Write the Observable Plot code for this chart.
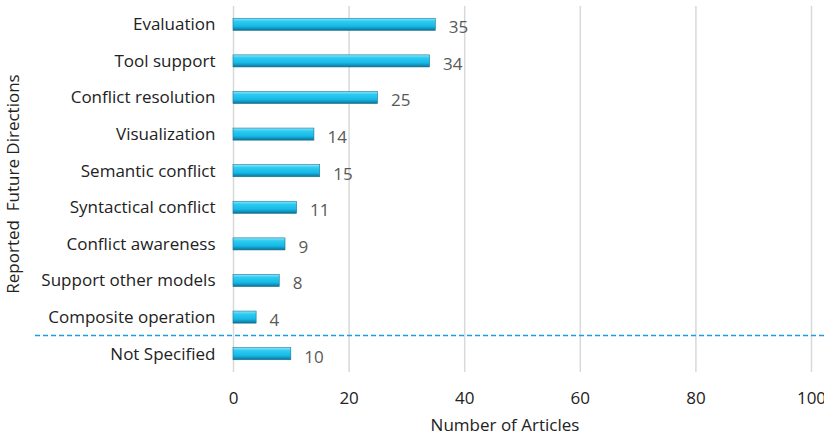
<!DOCTYPE html>
<html><head><meta charset="utf-8">
<script src="https://cdn.jsdelivr.net/npm/d3@7"></script>
<script src="https://cdn.jsdelivr.net/npm/@observablehq/plot@0.6"></script>
<style>body{margin:0;background:#fff;} svg{display:block;}</style>
</head><body><div id="chart"></div>
<script>
const categories = ["Evaluation","Tool support","Conflict resolution","Visualization","Semantic conflict","Syntactical conflict","Conflict awareness","Support other models","Composite operation","Not Specified"];
const values = [35,34,25,14,15,11,9,8,4,10];
const xTicks = [0,20,40,60,80,100];
const data = categories.map((c,i)=>({category:c, value:values[i]}));
const font = "'Open Sans', sans-serif";

const chart = Plot.plot({
  width: 824, height: 442,
  marginLeft: 233, marginRight: 13, marginTop: 6, marginBottom: 70,
  style: {fontFamily: font, fontSize: "17px", color: "#222", background: "#fff"},
  x: {domain: [0,100], ticks: xTicks, label: null},
  y: {domain: categories, paddingInner: 0.67, paddingOuter: 0.335, round: false, label: null},
  marks: [
    Plot.gridX(xTicks, {stroke: "#d9d9d9", strokeOpacity: 1, strokeWidth: 1.5}),
    Plot.barX(data, {x: "value", y: "category", fill: "url(#barGrad)", stroke: "#1a7596", strokeWidth: 0.6}),
    Plot.text(data, {x: "value", y: "category", text: d=>String(d.value), dx: 13, dy: 3, textAnchor: "start", fill: "#595959", fontSize: 17}),
    Plot.axisX({ticks: xTicks, tickSize: 0, tickPadding: 19, fontSize: 17, fill: "#222"}),
    Plot.axisY({tickSize: 0, tickPadding: 18, fontSize: 17, fill: "#222", label: null})
  ]
});
document.getElementById("chart").appendChild(chart);

const svg = d3.select(chart);
const defs = svg.insert("defs", ":first-child");
const g = defs.append("linearGradient").attr("id","barGrad").attr("x1",0).attr("y1",0).attr("x2",0).attr("y2",1);
[["0%","#8fe6fb"],["25%","#2ccbf2"],["65%","#17bae6"],["85%","#0f93be"],["100%","#0b6a8a"]].forEach(([o,c])=>g.append("stop").attr("offset",o).attr("stop-color",c));

// dashed separator between the last two categories, using the y scale
const ys = chart.scale("y");
const bw = ys.bandwidth;
const yA = ys.apply(categories[categories.length-2]) + bw/2;
const yB = ys.apply(categories[categories.length-1]) + bw/2;
const ySep = Math.round((yA + yB)/2) + 0.5;
svg.append("line").attr("x1",35).attr("x2",824).attr("y1",ySep).attr("y2",ySep)
  .attr("stroke","#1c9fe0").attr("stroke-width",1.3).attr("stroke-dasharray","5,3");

// axis titles
svg.append("text").attr("transform",`translate(19,184) rotate(-90)`).attr("text-anchor","middle")
  .attr("font-family",font).attr("font-size",17).attr("fill","#222").attr("xml:space","preserve").text("Reported  Future Directions");
svg.append("text").attr("x",505).attr("y",431).attr("text-anchor","middle")
  .attr("font-family",font).attr("font-size",17).attr("fill","#222").text("Number of Articles");
</script></body></html>
